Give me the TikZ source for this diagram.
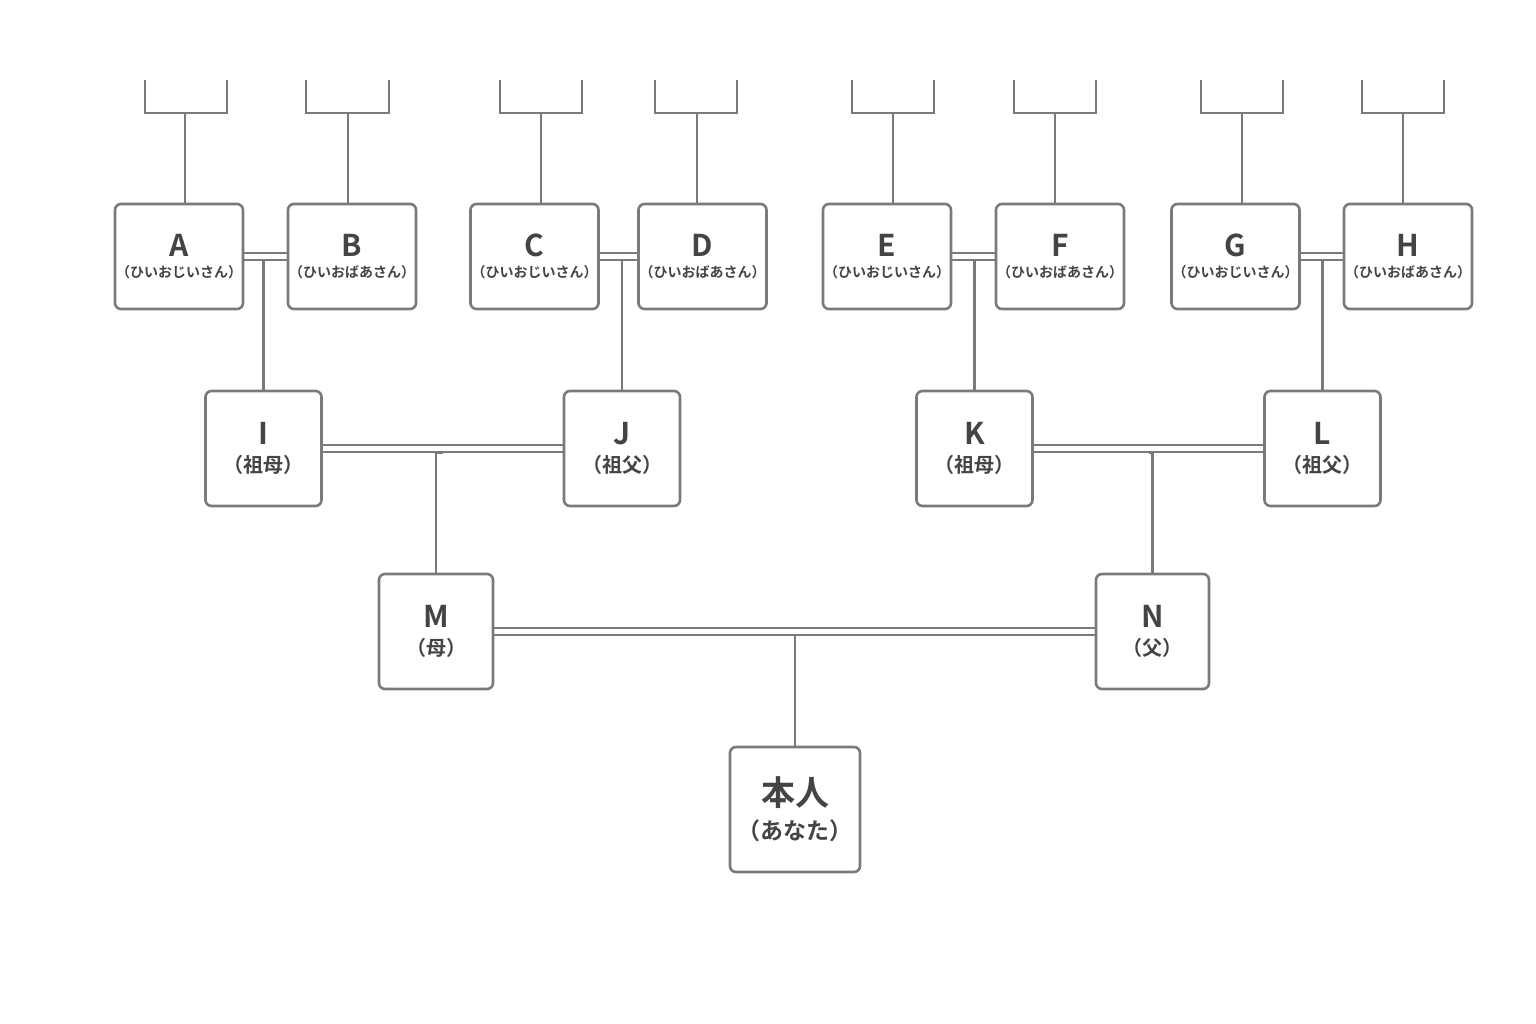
\documentclass[tikz,border=0pt]{standalone}
\usepackage{fontspec}
\newfontfamily\jp{Noto Sans CJK JP}[BoldFont={Noto Sans CJK JP Bold}]
\usetikzlibrary{calc}
\definecolor{ln}{HTML}{7A7A7A}
\definecolor{tx}{HTML}{444444}
\begin{document}
\begin{tikzpicture}[x=1pt,y=-1pt,
  box/.style={draw=ln,line width=2.6pt,rounded corners=6pt,fill=white,text=tx,align=center,inner sep=0pt},
  gg/.style={box,minimum width=128pt,minimum height=105pt},
  gp/.style={box,minimum width=116pt,minimum height=115pt},
  con/.style={draw=ln,line width=2.4pt},
  big/.style={font=\jp\bfseries\fontsize{30}{34}\selectfont}]
\useasboundingbox[fill=white] (0,0) rectangle (1536,1024);
\newcommand\ggtext[2]{{\jp\bfseries\fontsize{30}{30}\selectfont #1}\\[8pt]{\jp\bfseries\fontsize{14}{14}\selectfont （#2）}}
\newcommand\gptext[2]{{\jp\bfseries\fontsize{30}{30}\selectfont #1}\\[10pt]{\jp\bfseries\fontsize{20}{20}\selectfont （#2）}}
% great-grandparents
\foreach \n/\x/\t/\s in {A/179/A/ひいおじいさん,B/352/B/ひいおばあさん,C/534.5/C/ひいおじいさん,D/702.5/D/ひいおばあさん,E/887/E/ひいおじいさん,F/1060/F/ひいおばあさん,G/1235.5/G/ひいおじいさん,H/1408/H/ひいおばあさん}
  \node[gg] (\n) at (\x,256.5) {\ggtext{\t}{\s}};
% brackets
\foreach \n/\l/\c/\r in {A/145/185/227,B/306/348/389,C/500/541/582,D/655/697/737,E/852/893/934,F/1014/1055/1096,G/1201/1242/1283,H/1362/1403/1444}{
  \coordinate (t\n) at (\c,113);
  \draw[con] (\l,80) -- (\l,113) -- (\r,113) -- (\r,80);
  \draw[con] (\n.north -| t\n) -- (t\n);
}
% grandparents
\node[gp] (I) at (263.5,448.5) {\gptext{I}{祖母}};
\node[gp] (J) at (622,448.5) {\gptext{J}{祖父}};
\node[gp] (K) at (974.5,448.5) {\gptext{K}{祖母}};
\node[gp] (L) at (1322.5,448.5) {\gptext{L}{祖父}};
% parents
\node[gp,minimum width=114pt] (M) at (436,631.5) {\gptext{M}{母}};
\node[gp,minimum width=113pt] (N) at (1152.5,631.5) {\gptext{N}{父}};
% self
\node[box,minimum width=130pt,minimum height=125pt] (S) at (795,809.5) {{\jp\bfseries\fontsize{34}{34}\selectfont 本人}\\[10pt]{\jp\bfseries\fontsize{23}{23}\selectfont （あなた）}};
% marriages
\foreach \a/\b/\c in {A/B/I,C/D/J,E/F/K,G/H/L,I/J/M,K/L/N,M/N/S}{
  \draw[con,line width=2pt] ([yshift=3.8pt]\a.east) -- ([yshift=3.8pt]\b.west);
  \draw[con,line width=2pt] ([yshift=-3.8pt]\a.east) -- ([yshift=-3.8pt]\b.west);
  \coordinate (m\a) at ($([yshift=-3.8pt]\a.east)!0.5!([yshift=-3.8pt]\b.west)$);
  \draw[con] (\c.north) |- (m\a);
}
\end{tikzpicture}
\end{document}
